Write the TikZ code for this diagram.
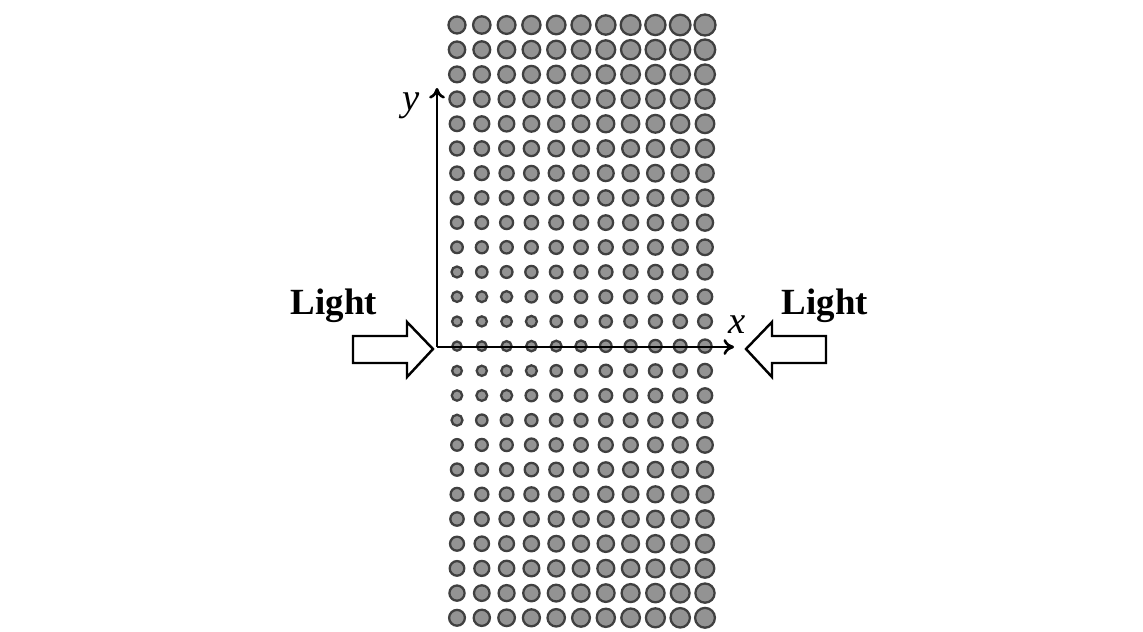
\documentclass[tikz,border=0pt]{standalone}
\usepackage{fontspec}
\setmainfont{Liberation Serif}
\usetikzlibrary{arrows.meta}

\tikzset{
  hole/.style={fill=gray!85, draw=black!75, line width=1.3pt},
  axis/.style={line width=1.5pt, -{To[length=6pt,width=9pt]}},
  lightarrow/.style={draw=black, fill=white, line width=1.4pt, line join=miter},
  lightlabel/.style={font=\bfseries\fontsize{21}{21}\selectfont},
  axislabel/.style={font=\itshape\fontsize{22}{22}\selectfont}
}

\begin{document}
\begin{tikzpicture}[x=0.02cm,y=-0.02cm]
   \useasboundingbox (0,0) rectangle (1143,632);

   % array of holes, smallest along the x axis
   \foreach \i in {0,...,24}
      \foreach \j in {0,...,10} {
         \pgfmathsetmacro{\rad}{4.6+0.2*\j+0.3*abs(\i-13)}
         \draw [hole] (457+24.8*\j,25+24.7*\i) circle [radius=\rad];
      }

   % axes
   \coordinate (O) at (437,347);
   \coordinate (ytip) at (437,88);
   \coordinate (xtip) at (734,347);
   \draw [axis] (O) -- (ytip);
   \draw [axis] (O) -- (xtip);
   \node [axislabel] (ylab) at (411,106) {y};
   \node [axislabel] (xlab) at (737,325) {x};

   % incoming light
   \draw [lightarrow]
      (353,336) -- (407,336) -- (407,322) -- (433,349)
      -- (407,377) -- (407,363) -- (353,363) -- cycle;
   \draw [lightarrow]
      (826,336) -- (772,336) -- (772,322) -- (746,349)
      -- (772,377) -- (772,363) -- (826,363) -- cycle;
   \node [lightlabel] (lightL) at (334,306) {Light};
   \node [lightlabel] (lightR) at (825,306) {Light};
\end{tikzpicture}
\end{document}
